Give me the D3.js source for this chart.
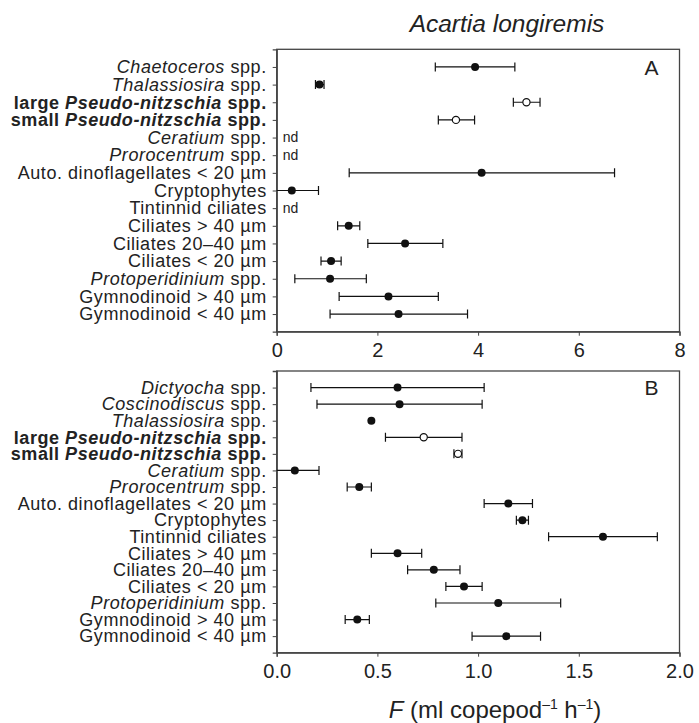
<!DOCTYPE html>
<html>
<head>
<meta charset="utf-8">
<script src="https://cdn.jsdelivr.net/npm/d3@7"></script>
<style>
  body { margin: 0; background: #fff; }
  svg { display: block; font-family: "Liberation Sans", Arial, Helvetica, sans-serif; }
</style>
</head>
<body>
<svg id="base" width="699" height="723"></svg>
<script>
// labels: <i>..</i> = italic, leading <b> = whole label bold
let catsA = [
    "<i>Chaetoceros</i> spp.",
    "<i>Thalassiosira</i> spp.",
    "<b>large <i>Pseudo-nitzschia</i> spp.",
    "<b>small <i>Pseudo-nitzschia</i> spp.",
    "<i>Ceratium</i> spp.",
    "<i>Prorocentrum</i> spp.",
    "Auto. dinoflagellates < 20 µm",
    "Cryptophytes",
    "Tintinnid ciliates",
    "Ciliates > 40 µm",
    "Ciliates 20–40 µm",
    "Ciliates < 20 µm",
    "<i>Protoperidinium</i> spp.",
    "Gymnodinoid > 40 µm",
    "Gymnodinoid < 40 µm"
]
let meanA = [3.94, 0.85, 4.96, 3.56, null, null, 4.07, 0.30, null, 1.43, 2.55, 1.08, 1.06, 2.22, 2.42]
let lowA = [3.15, 0.77, 4.70, 3.21, null, null, 1.44, -0.25, null, 1.21, 1.81, 0.88, 0.36, 1.24, 1.06]
let highA = [4.73, 0.94, 5.23, 3.93, null, null, 6.71, 0.83, null, 1.65, 3.30, 1.28, 1.78, 3.21, 3.79]
let ticksA = [0, 2, 4, 6, 8]

let catsB = [
    "<i>Dictyocha</i> spp.",
    "<i>Coscinodiscus</i> spp.",
    "<i>Thalassiosira</i> spp.",
    "<b>large <i>Pseudo-nitzschia</i> spp.",
    "<b>small <i>Pseudo-nitzschia</i> spp.",
    "<i>Ceratium</i> spp.",
    "<i>Prorocentrum</i> spp.",
    "Auto. dinoflagellates < 20 µm",
    "Cryptophytes",
    "Tintinnid ciliates",
    "Ciliates > 40 µm",
    "Ciliates 20–40 µm",
    "Ciliates < 20 µm",
    "<i>Protoperidinium</i> spp.",
    "Gymnodinoid > 40 µm",
    "Gymnodinoid < 40 µm"
]
let meanB = [0.60, 0.61, 0.47, 0.73, 0.90, 0.09, 0.41, 1.15, 1.22, 1.62, 0.60, 0.78, 0.93, 1.10, 0.40, 1.14]
let lowB = [0.17, 0.20, null, 0.54, 0.88, -0.03, 0.35, 1.03, 1.19, 1.35, 0.47, 0.65, 0.84, 0.79, 0.34, 0.97]
let highB = [1.03, 1.02, null, 0.92, 0.92, 0.21, 0.47, 1.27, 1.25, 1.89, 0.72, 0.91, 1.02, 1.41, 0.46, 1.31]
let ticksB = [0, 0.5, 1, 1.5, 2]

const base = d3.select('#base')
const left = 276.7, right = 679.5
const ink = "#222"

function writeLabel(textSel, s) {
    textSel.text(null)
    let bold = s.startsWith("<b>")
    s = s.replace("<b>", "")
    s.split(/(<i>.*?<\/i>)/).filter(p => p.length).forEach(p => {
        let it = p.startsWith("<i>")
        textSel.append("tspan")
            .attr("font-style", it ? "italic" : "normal")
            .attr("font-weight", bold ? "bold" : "normal")
            .text(p.replace(/<\/?i>/g, ""))
    })
}

function drawPanel(id, top, bottom, cats, mean, low, high, xmax, ticks, fmt, letter) {
    let x = d3.scaleLinear().domain([0, xmax]).range([left, right])
    let y = d3.scalePoint().domain(cats.map((c, i) => i)).range([top, bottom]).padding(1)
    let g = base.append("g")

    g.append("clipPath").attr("id", "clip" + id)
        .append("rect").attr("x", left).attr("y", top).attr("width", right - left).attr("height", bottom - top)

    g.append("rect")
        .attr("x", left).attr("y", top)
        .attr("width", right - left).attr("height", bottom - top)
        .attr("fill", "none").attr("stroke", "#444").attr("stroke-width", 1.3)

    let yAxis = g.append("g")
        .attr("transform", "translate(" + left + ",0)")
        .call(d3.axisLeft(y).tickSize(4).tickPadding(6).tickFormat(i => cats[i]))
    yAxis.select(".domain").attr("stroke", "#444").attr("stroke-width", 1.3)
    yAxis.selectAll(".tick line").attr("stroke", "#444")
    yAxis.selectAll(".tick text")
        .attr("font-size", 18).attr("letter-spacing", 0.55).attr("fill", ink)
        .each(function(i) { writeLabel(d3.select(this), cats[i]) })

    let xAxis = g.append("g")
        .attr("transform", "translate(0," + bottom + ")")
        .call(d3.axisBottom(x).tickValues(ticks).tickSize(4).tickPadding(7).tickFormat(d3.format(fmt)))
    xAxis.select(".domain").attr("stroke", "#444").attr("stroke-width", 1.3)
    xAxis.selectAll(".tick line").attr("stroke", "#444")
    xAxis.selectAll(".tick text").attr("font-size", 20).attr("fill", ink)

    let rows = cats.map((c, i) => ({ i: i, c: c, m: mean[i], lo: low[i], hi: high[i] }))
    let marks = g.append("g").attr("clip-path", "url(#clip" + id + ")")

    let bars = rows.filter(r => r.m != null && r.lo != null)
    marks.selectAll(".err").data(bars).enter().append("line")
        .attr("x1", r => x(r.lo)).attr("x2", r => x(r.hi))
        .attr("y1", r => y(r.i)).attr("y2", r => y(r.i))
        .attr("stroke", "#111").attr("stroke-width", 1.2)
    bars.forEach(r => {
        [r.lo, r.hi].forEach(v => {
            marks.append("line")
                .attr("x1", x(v)).attr("x2", x(v))
                .attr("y1", y(r.i) - 4.5).attr("y2", y(r.i) + 4.5)
                .attr("stroke", "#111").attr("stroke-width", 1.2)
        })
    })

    marks.selectAll(".dot").data(rows.filter(r => r.m != null)).enter().append("circle")
        .attr("cx", r => x(r.m)).attr("cy", r => y(r.i))
        .attr("r", r => r.c.includes("Pseudo") ? 3.6 : 4)
        .attr("fill", r => r.c.includes("Pseudo") ? "#fff" : "#111")
        .attr("stroke", "#111").attr("stroke-width", r => r.c.includes("Pseudo") ? 1.2 : 0)

    g.selectAll(".nd").data(rows.filter(r => r.m == null)).enter().append("text")
        .attr("x", left + 6).attr("y", r => y(r.i)).attr("dy", "0.35em")
        .attr("font-size", 14).attr("fill", ink).text("nd")

    g.append("text")
        .attr("x", right - 28).attr("y", y(0)).attr("dy", "0.36em")
        .attr("text-anchor", "middle").attr("font-size", 21).attr("fill", ink)
        .text(letter)
}

drawPanel("A", 49.3, 331.7, catsA, meanA, lowA, highA, 8, ticksA, "d", "A")
drawPanel("B", 371, 652.7, catsB, meanB, lowB, highB, 2, ticksB, ".1f", "B")

base.append("text")
    .attr("x", 507).attr("y", 31.5)
    .attr("text-anchor", "middle").attr("font-size", 24.5).attr("font-style", "italic").attr("fill", ink)
    .text("Acartia longiremis")

let xl = base.append("text")
    .attr("x", 495).attr("y", 718)
    .attr("text-anchor", "middle").attr("font-size", 24).attr("fill", ink)
xl.append("tspan").attr("font-style", "italic").text("F")
xl.append("tspan").text(" (ml copepod")
xl.append("tspan").attr("font-size", 14).attr("dy", -9).text("–1")
xl.append("tspan").attr("dy", 9).text(" h")
xl.append("tspan").attr("font-size", 14).attr("dy", -9).text("–1")
xl.append("tspan").attr("dy", 9).text(")")
</script>
</body>
</html>
